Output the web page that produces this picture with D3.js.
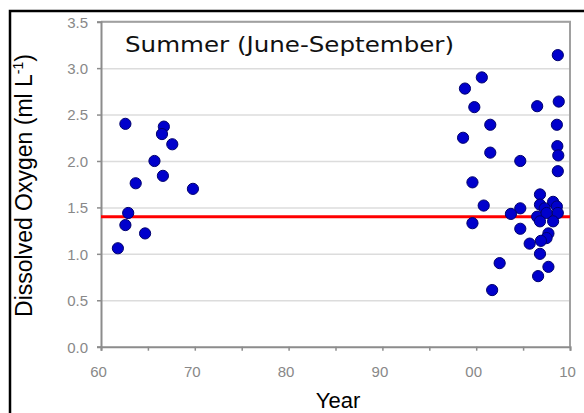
<!DOCTYPE html>
<html>
<head>
<meta charset="utf-8">
<script src="https://cdn.jsdelivr.net/npm/d3@7"></script>
<style>
  body { margin:0; background:#fff; }
  svg { display:block; }
</style>
</head>
<body>
<div id="chart"></div>
<script>
// data (years as full years, 2000s written 20xx)
var years = [
  1962.6, 1966.7, 1966.5, 1967.6, 1965.7, 1966.6, 1963.7, 1969.8, 1962.9, 1962.6, 1964.7, 1961.8,
  2008.7, 2000.6, 1998.8, 1999.8, 2006.5, 2008.8, 2001.5, 2008.6, 1998.6, 2001.5, 2008.65, 2008.75,
  2004.7, 2008.7, 1999.6, 2006.8, 2000.8, 2004.7, 2003.7, 1999.6, 2004.7, 2005.7, 2006.8, 2002.5,
  2007.7, 2006.6, 2001.7, 2008.2, 2008.6, 2006.8, 2007.3, 2008.7, 2006.5, 2007.5, 2008.2, 2006.8,
  2007.7, 2007.5, 2006.9
]
var oxygen = [
  2.40, 2.37, 2.29, 2.18, 2.00, 1.84, 1.76, 1.70, 1.44, 1.31, 1.22, 1.06,
  3.14, 2.90, 2.78, 2.58, 2.59, 2.64, 2.39, 2.39, 2.25, 2.09, 2.16, 2.06,
  2.00, 1.89, 1.77, 1.64, 1.52, 1.49, 1.43, 1.33, 1.27, 1.11, 1.00, 0.90,
  0.86, 0.76, 0.61, 1.56, 1.51, 1.53, 1.49, 1.44, 1.40, 1.44, 1.35, 1.35,
  1.22, 1.17, 1.14
]
var threshold = 1.4
var yTicks = [0, 0.5, 1.0, 1.5, 2.0, 2.5, 3.0, 3.5]
var xTicks = [1960, 1965, 1970, 1975, 1980, 1985, 1990, 1995, 2000, 2005, 2010]
var xLabels = {1960:"60", 1970:"70", 1980:"80", 1990:"90", 2000:"00", 2010:"10"}

var W = 584, H = 413
var plot = {left:101, right:570, top:21.7, bottom:346.7}

var svg = d3.select("#chart").append("svg")
    .attr("width", W).attr("height", H)

svg.append("rect").attr("width", W).attr("height", H).attr("fill", "#fff")

// outer black frame (runs off right and bottom)
svg.append("rect")
    .attr("x", 10).attr("y", 11)
    .attr("width", W + 20).attr("height", H + 20)
    .attr("fill", "none").attr("stroke", "#000").attr("stroke-width", 2.5)

var x = d3.scaleLinear().domain([1960, 2010]).range([plot.left, plot.right])
var y = d3.scaleLinear().domain([0, 3.5]).range([plot.bottom, plot.top])

// gridlines
svg.append("g")
    .attr("class", "grid")
    .attr("transform", `translate(${plot.left},0)`)
    .call(d3.axisRight(y).tickValues(yTicks.slice(1)).tickSize(plot.right - plot.left).tickFormat(""))
    .call(g => g.select(".domain").remove())
    .selectAll("line").attr("stroke", "#dcdcdc").attr("stroke-width", 1.5)

// plot frame top / right
svg.append("path")
    .attr("d", `M${plot.left},${plot.top}H${plot.right}V${plot.bottom}`)
    .attr("fill", "none").attr("stroke", "#a0a0a0").attr("stroke-width", 2)

var tickFont = "Liberation Sans, Arial, sans-serif"

// y axis
var ya = svg.append("g")
    .attr("transform", `translate(${plot.left},0)`)
    .call(d3.axisLeft(y).tickValues(yTicks).tickSize(4).tickPadding(9).tickFormat(d3.format(".1f")))
ya.select(".domain").attr("stroke", "#8c8c8c").attr("stroke-width", 2)
ya.selectAll(".tick line").attr("stroke", "#8c8c8c").attr("stroke-width", 1.5)
ya.selectAll(".tick text")
    .attr("font-family", tickFont).attr("font-size", 15)
    .attr("fill", "#888").attr("dy", "0.36em")

// x axis
var xa = svg.append("g")
    .attr("transform", `translate(0,${plot.bottom})`)
    .call(d3.axisBottom(x).tickValues(xTicks).tickSize(4).tickFormat(d => xLabels[d] || ""))
xa.select(".domain").attr("stroke", "#8c8c8c").attr("stroke-width", 2)
xa.selectAll(".tick line").attr("stroke", "#8c8c8c").attr("stroke-width", 1.5)
xa.selectAll(".tick text")
    .attr("font-family", tickFont).attr("font-size", 15)
    .attr("fill", "#888").attr("y", 30).attr("dy", 0).attr("dx", -3)

// threshold line
svg.append("line")
    .attr("x1", plot.left).attr("x2", plot.right)
    .attr("y1", y(threshold)).attr("y2", y(threshold))
    .attr("stroke", "#ff0000").attr("stroke-width", 3)

// points
svg.append("g").selectAll("circle")
    .data(years.map((d, i) => ({x:d, y:oxygen[i]})))
    .join("circle")
    .attr("cx", d => x(d.x))
    .attr("cy", d => y(d.y))
    .attr("r", 5.6)
    .attr("fill", "#0000cc")
    .attr("stroke", "#00006e").attr("stroke-width", 1)

// title
svg.append("text")
    .attr("x", 125).attr("y", 52)
    .attr("font-family", "DejaVu Sans, sans-serif").attr("font-size", 21)
    .attr("textLength", 329).attr("lengthAdjust", "spacingAndGlyphs")
    .attr("fill", "#111")
    .text("Summer (June-September)")

// axis titles
var yl = svg.append("text")
    .attr("transform", `translate(32,${(48 + 323) / 2}) rotate(-90)`)
    .attr("text-anchor", "middle")
    .attr("font-family", "Liberation Sans, Arial, sans-serif").attr("font-size", 23)
    .attr("fill", "#000")
yl.append("tspan").text("Dissolved Oxygen (ml L")
yl.append("tspan").attr("font-size", 14).attr("dy", -9).text("-1")
yl.append("tspan").attr("dy", 9).text(")")

svg.append("text")
    .attr("x", 338).attr("y", 408)
    .attr("text-anchor", "middle")
    .attr("font-family", "Liberation Sans, Arial, sans-serif").attr("font-size", 22)
    .attr("fill", "#000")
    .text("Year")
</script>
</body>
</html>
